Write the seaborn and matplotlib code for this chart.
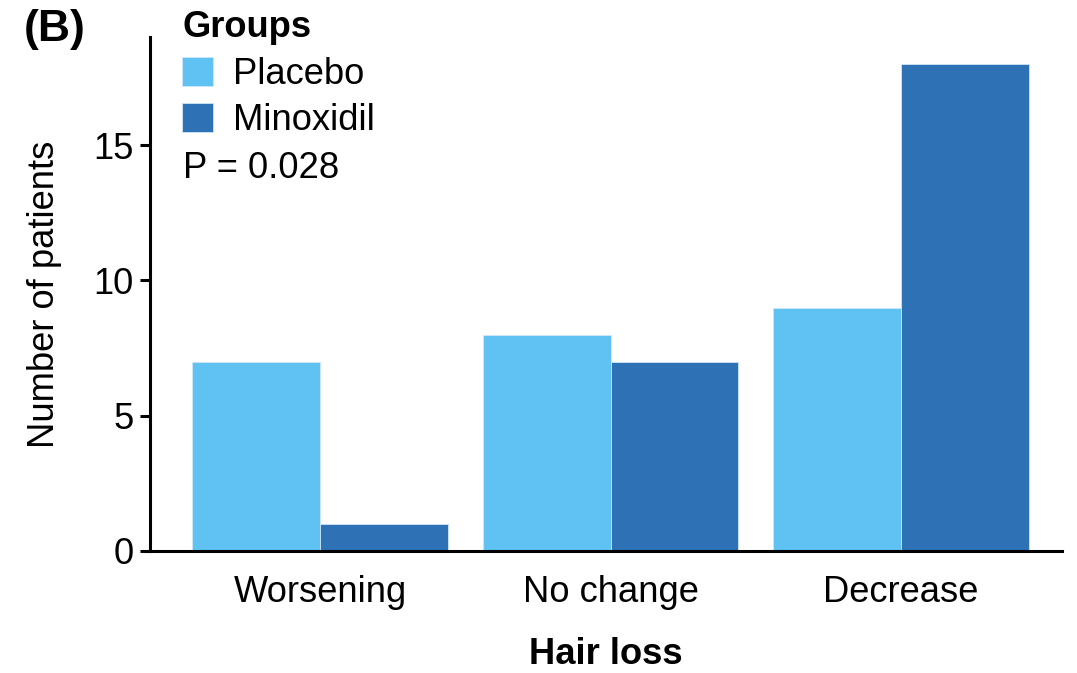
import matplotlib
matplotlib.use("Agg")
import matplotlib.pyplot as plt
import seaborn as sns
import pandas as pd

# Patient counts by change in hair loss
categories = ["Worsening", "No change", "Decrease"]
groups = ["Placebo", "Minoxidil"]
placebo = [7, 8, 9]
minoxidil = [1, 7, 18]
colors = {"Placebo": "#5FC2F2", "Minoxidil": "#2E71B5"}
p_value_text = "P = 0.028"

df = pd.DataFrame({
    "Hair loss": categories * 2,
    "Groups": ["Placebo"] * 3 + ["Minoxidil"] * 3,
    "Number of patients": placebo + minoxidil,
})

sns.set_theme(style="ticks")
plt.rcParams["font.family"] = ["Liberation Sans", "DejaVu Sans"]
plt.rcParams["text.color"] = "black"
plt.rcParams["axes.labelcolor"] = "black"
FS = 26.2

fig = plt.figure(figsize=(10.77, 6.73), dpi=100)
ax = fig.add_axes([0.1393, 0.1813, 0.847, 0.7637])

sns.barplot(data=df, x="Hair loss", y="Number of patients", hue="Groups",
            order=categories, hue_order=groups, palette=colors, saturation=1,
            width=0.88, edgecolor="#cfe6f7", linewidth=0.6, ax=ax)

ax.set_xlim(-0.586, 2.555)
ax.set_ylim(0, 19)
ax.set_yticks([0, 5, 10, 15])

for side in ["top", "right"]:
    ax.spines[side].set_visible(False)
for side in ["left", "bottom"]:
    ax.spines[side].set_linewidth(2.2)
    ax.spines[side].set_color("black")

ax.tick_params(axis="y", length=7, width=2.2, labelsize=FS, pad=5, colors="black")
ax.tick_params(axis="x", length=0, labelsize=FS, pad=17, colors="black")

ax.set_xlabel("Hair loss", fontsize=FS, fontweight="bold", labelpad=20)
ax.set_ylabel("Number of patients", fontsize=FS, labelpad=22)

sns.move_legend(ax, loc="upper left", bbox_to_anchor=(0.169, 0.985),
                bbox_transform=fig.transFigure, frameon=False, title="Groups",
                fontsize=FS, title_fontsize=FS, handlelength=0.84,
                handleheight=0.84, handletextpad=0.55, labelspacing=0.32,
                borderpad=0, borderaxespad=0)
leg = ax.get_legend()
leg.get_title().set_fontweight("bold")
leg._legend_box.align = "left"

fig.text(183 / 1077, 1 - 168 / 673, p_value_text, fontsize=FS, va="center", ha="left")
fig.text(24 / 1077, 1 - 30 / 673, "(B)", fontsize=32, fontweight="bold", va="center", ha="left")

fig.savefig("out.png", dpi=100)
